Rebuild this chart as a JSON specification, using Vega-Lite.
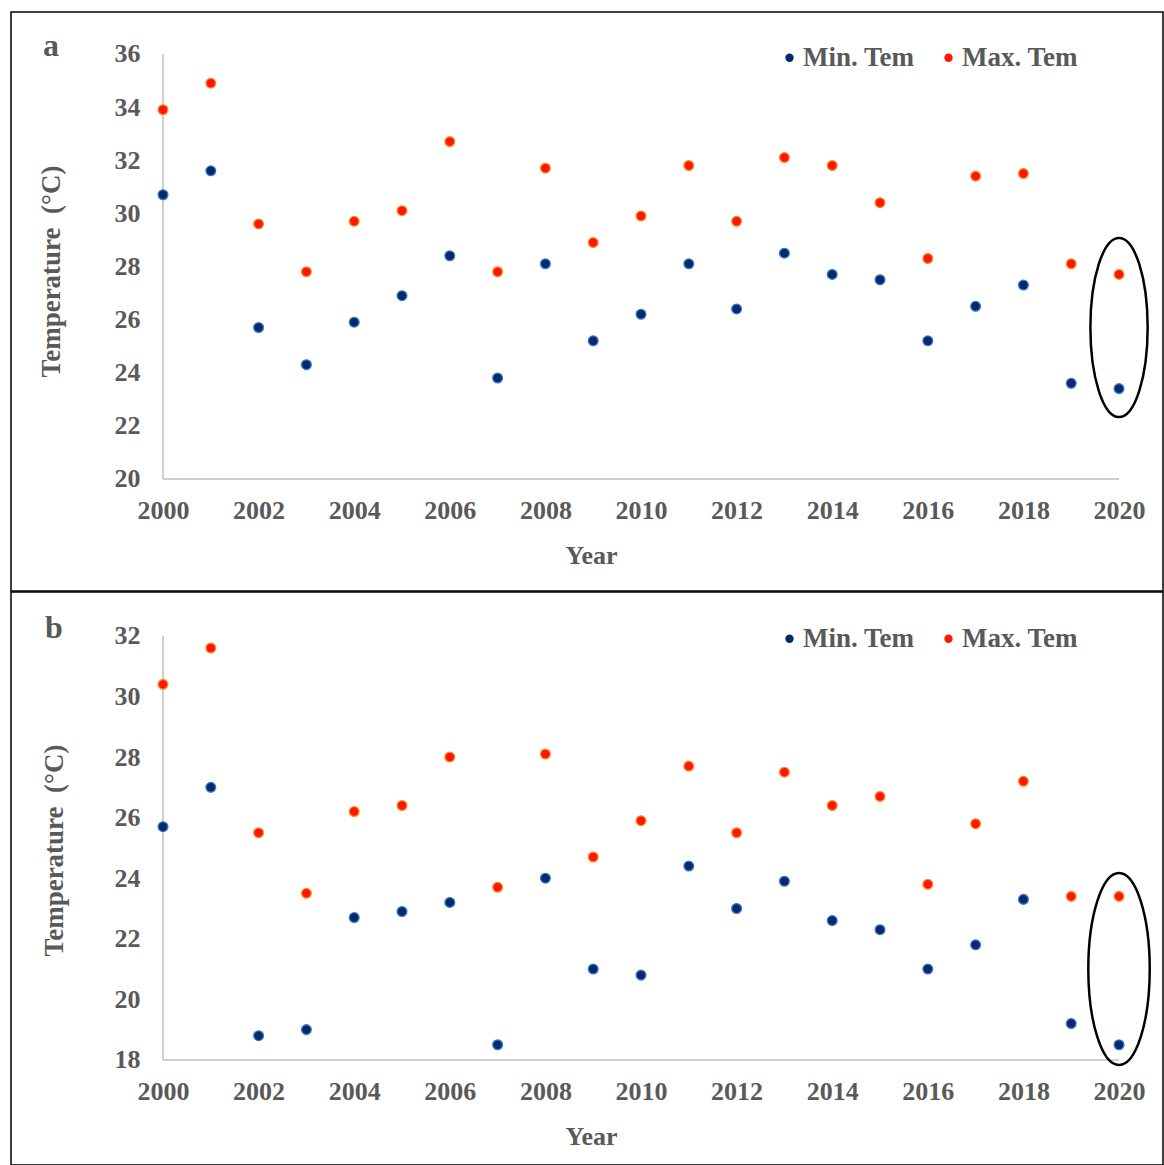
{
  "$schema": "https://vega.github.io/schema/vega-lite/v6.json",
  "background": "white",
  "padding": {"left": 10, "top": 11, "right": 2, "bottom": 0},
  "autosize": {"type": "pad"},
  "bounds": "flush",
  "spacing": 1,
  "config": {
    "view": {"stroke": "#000000", "strokeWidth": 1.5},
    "font": "Liberation Serif",
    "axis": {
      "domain": false, "ticks": false, "tickSize": 0, "grid": false,
      "labelFont": "Liberation Serif", "labelFontSize": 26, "labelFontWeight": "bold", "labelColor": "#595959",
      "labelFlush": false, "labelOverlap": false,
      "titleFont": "Liberation Serif", "titleFontSize": 26, "titleFontWeight": "bold", "titleColor": "#595959"
    },
    "legend": {
      "labelFont": "Liberation Serif", "labelFontSize": 27, "labelFontWeight": "bold", "labelColor": "#595959",
      "symbolSize": 70, "symbolType": "circle", "labelOffset": 0, "columnPadding": 20, "symbolStrokeWidth": 0
    }
  },
  "datasets": {
    "temps": [
      {"p":"a","Year":2000,"series":"Max. Tem","temp":33.9},{"p":"a","Year":2001,"series":"Max. Tem","temp":34.9},{"p":"a","Year":2002,"series":"Max. Tem","temp":29.6},{"p":"a","Year":2003,"series":"Max. Tem","temp":27.8},{"p":"a","Year":2004,"series":"Max. Tem","temp":29.7},{"p":"a","Year":2005,"series":"Max. Tem","temp":30.1},{"p":"a","Year":2006,"series":"Max. Tem","temp":32.7},{"p":"a","Year":2007,"series":"Max. Tem","temp":27.8},{"p":"a","Year":2008,"series":"Max. Tem","temp":31.7},{"p":"a","Year":2009,"series":"Max. Tem","temp":28.9},{"p":"a","Year":2010,"series":"Max. Tem","temp":29.9},{"p":"a","Year":2011,"series":"Max. Tem","temp":31.8},{"p":"a","Year":2012,"series":"Max. Tem","temp":29.7},{"p":"a","Year":2013,"series":"Max. Tem","temp":32.1},{"p":"a","Year":2014,"series":"Max. Tem","temp":31.8},{"p":"a","Year":2015,"series":"Max. Tem","temp":30.4},{"p":"a","Year":2016,"series":"Max. Tem","temp":28.3},{"p":"a","Year":2017,"series":"Max. Tem","temp":31.4},{"p":"a","Year":2018,"series":"Max. Tem","temp":31.5},{"p":"a","Year":2019,"series":"Max. Tem","temp":28.1},{"p":"a","Year":2020,"series":"Max. Tem","temp":27.7},
      {"p":"a","Year":2000,"series":"Min. Tem","temp":30.7},{"p":"a","Year":2001,"series":"Min. Tem","temp":31.6},{"p":"a","Year":2002,"series":"Min. Tem","temp":25.7},{"p":"a","Year":2003,"series":"Min. Tem","temp":24.3},{"p":"a","Year":2004,"series":"Min. Tem","temp":25.9},{"p":"a","Year":2005,"series":"Min. Tem","temp":26.9},{"p":"a","Year":2006,"series":"Min. Tem","temp":28.4},{"p":"a","Year":2007,"series":"Min. Tem","temp":23.8},{"p":"a","Year":2008,"series":"Min. Tem","temp":28.1},{"p":"a","Year":2009,"series":"Min. Tem","temp":25.2},{"p":"a","Year":2010,"series":"Min. Tem","temp":26.2},{"p":"a","Year":2011,"series":"Min. Tem","temp":28.1},{"p":"a","Year":2012,"series":"Min. Tem","temp":26.4},{"p":"a","Year":2013,"series":"Min. Tem","temp":28.5},{"p":"a","Year":2014,"series":"Min. Tem","temp":27.7},{"p":"a","Year":2015,"series":"Min. Tem","temp":27.5},{"p":"a","Year":2016,"series":"Min. Tem","temp":25.2},{"p":"a","Year":2017,"series":"Min. Tem","temp":26.5},{"p":"a","Year":2018,"series":"Min. Tem","temp":27.3},{"p":"a","Year":2019,"series":"Min. Tem","temp":23.6},{"p":"a","Year":2020,"series":"Min. Tem","temp":23.4},
      {"p":"b","Year":2000,"series":"Max. Tem","temp":30.4},{"p":"b","Year":2001,"series":"Max. Tem","temp":31.6},{"p":"b","Year":2002,"series":"Max. Tem","temp":25.5},{"p":"b","Year":2003,"series":"Max. Tem","temp":23.5},{"p":"b","Year":2004,"series":"Max. Tem","temp":26.2},{"p":"b","Year":2005,"series":"Max. Tem","temp":26.4},{"p":"b","Year":2006,"series":"Max. Tem","temp":28.0},{"p":"b","Year":2007,"series":"Max. Tem","temp":23.7},{"p":"b","Year":2008,"series":"Max. Tem","temp":28.1},{"p":"b","Year":2009,"series":"Max. Tem","temp":24.7},{"p":"b","Year":2010,"series":"Max. Tem","temp":25.9},{"p":"b","Year":2011,"series":"Max. Tem","temp":27.7},{"p":"b","Year":2012,"series":"Max. Tem","temp":25.5},{"p":"b","Year":2013,"series":"Max. Tem","temp":27.5},{"p":"b","Year":2014,"series":"Max. Tem","temp":26.4},{"p":"b","Year":2015,"series":"Max. Tem","temp":26.7},{"p":"b","Year":2016,"series":"Max. Tem","temp":23.8},{"p":"b","Year":2017,"series":"Max. Tem","temp":25.8},{"p":"b","Year":2018,"series":"Max. Tem","temp":27.2},{"p":"b","Year":2019,"series":"Max. Tem","temp":23.4},{"p":"b","Year":2020,"series":"Max. Tem","temp":23.4},
      {"p":"b","Year":2000,"series":"Min. Tem","temp":25.7},{"p":"b","Year":2001,"series":"Min. Tem","temp":27.0},{"p":"b","Year":2002,"series":"Min. Tem","temp":18.8},{"p":"b","Year":2003,"series":"Min. Tem","temp":19.0},{"p":"b","Year":2004,"series":"Min. Tem","temp":22.7},{"p":"b","Year":2005,"series":"Min. Tem","temp":22.9},{"p":"b","Year":2006,"series":"Min. Tem","temp":23.2},{"p":"b","Year":2007,"series":"Min. Tem","temp":18.5},{"p":"b","Year":2008,"series":"Min. Tem","temp":24.0},{"p":"b","Year":2009,"series":"Min. Tem","temp":21.0},{"p":"b","Year":2010,"series":"Min. Tem","temp":20.8},{"p":"b","Year":2011,"series":"Min. Tem","temp":24.4},{"p":"b","Year":2012,"series":"Min. Tem","temp":23.0},{"p":"b","Year":2013,"series":"Min. Tem","temp":23.9},{"p":"b","Year":2014,"series":"Min. Tem","temp":22.6},{"p":"b","Year":2015,"series":"Min. Tem","temp":22.3},{"p":"b","Year":2016,"series":"Min. Tem","temp":21.0},{"p":"b","Year":2017,"series":"Min. Tem","temp":21.8},{"p":"b","Year":2018,"series":"Min. Tem","temp":23.3},{"p":"b","Year":2019,"series":"Min. Tem","temp":19.2},{"p":"b","Year":2020,"series":"Min. Tem","temp":18.5}
    ],
    "highlight": [
      {"p":"a","Year":2020,"temp":25.7},
      {"p":"b","Year":2020,"temp":21.0}
    ]
  },
  "vconcat": [
    {
      "width": 1152,
      "height": 579,
      "layer": [
        {
          "data": {"values": [{}]},
          "mark": {"type": "rule", "color": "#bfbfbf", "strokeWidth": 1.5},
          "encoding": {"x": {"datum": 2000, "type": "quantitative"}, "x2": {"datum": 2020}, "y": {"datum": 20, "type": "quantitative"}}
        },
        {
          "data": {"values": [{}]},
          "mark": {"type": "rule", "color": "#bfbfbf", "strokeWidth": 1.5},
          "encoding": {"x": {"datum": 2000, "type": "quantitative"}, "y": {"datum": 20, "type": "quantitative"}, "y2": {"datum": 36}}
        },
        {
          "data": {"values": [{}]},
          "mark": {"type": "text", "align": "left", "baseline": "alphabetic", "font": "Liberation Serif", "fontSize": 32, "fontWeight": "bold", "color": "#595959"},
          "encoding": {"x": {"datum": 1997.49, "type": "quantitative"}, "y": {"datum": 35.92, "type": "quantitative"}, "text": {"value": "a"}}
        },
        {
          "data": {"name": "temps"},
          "transform": [{"filter": "datum.p === 'a'"}],
          "mark": {"type": "point", "filled": true, "size": 95, "strokeWidth": 1.3, "opacity": 1},
          "encoding": {
            "x": {"field": "Year", "type": "quantitative", "scale": {"domain": [1996.82, 2020.92], "nice": false, "zero": false},
              "axis": {"values": [2000,2002,2004,2006,2008,2010,2012,2014,2016,2018,2020], "format": "d", "offset": -112, "labelPadding": 18, "title": "Year", "titleX": 580, "titleY": 84, "titleAlign": "center", "titleBaseline": "alphabetic"}},
            "y": {"field": "temp", "type": "quantitative", "scale": {"domain": [15.78, 37.58], "nice": false, "zero": false},
              "axis": {"values": [20,22,24,26,28,30,32,34,36], "offset": -152, "labelPadding": 23, "title": "Temperature\u00a0 (°C)", "titleFontSize": 27, "titleAngle": 270, "titleX": -104, "titleY": 259, "titleAlign": "center", "titleBaseline": "alphabetic"}},
            "color": {"field": "series", "type": "nominal", "scale": {"domain": ["Min. Tem", "Max. Tem"], "range": ["#002a70", "#ff1500"]},
              "legend": {"title": null, "orient": "none", "direction": "horizontal", "legendX": 765, "legendY": 32}},
            "stroke": {"condition": {"test": "datum.series === 'Min. Tem'", "value": "#3a78c2"}, "value": "#ff8a2a"}
          }
        },
        {
          "data": {"name": "highlight"},
          "transform": [{"filter": "datum.p === 'a'"}],
          "mark": {"type": "point", "shape": "M0,-1A0.32,1,0,1,1,0,1A0.32,1,0,1,1,0,-1Z", "size": 32041, "filled": false, "stroke": "#000000", "strokeWidth": 2.5, "opacity": 1},
          "encoding": {"x": {"field": "Year", "type": "quantitative"}, "y": {"field": "temp", "type": "quantitative"}}
        }
      ]
    },
    {
      "width": 1152,
      "height": 573,
      "layer": [
        {
          "data": {"values": [{}]},
          "mark": {"type": "rule", "color": "#bfbfbf", "strokeWidth": 1.5},
          "encoding": {"x": {"datum": 2000, "type": "quantitative"}, "x2": {"datum": 2020}, "y": {"datum": 18, "type": "quantitative"}}
        },
        {
          "data": {"values": [{}]},
          "mark": {"type": "rule", "color": "#bfbfbf", "strokeWidth": 1.5},
          "encoding": {"x": {"datum": 2000, "type": "quantitative"}, "y": {"datum": 18, "type": "quantitative"}, "y2": {"datum": 32}}
        },
        {
          "data": {"values": [{}]},
          "mark": {"type": "text", "align": "left", "baseline": "alphabetic", "font": "Liberation Serif", "fontSize": 32, "fontWeight": "bold", "color": "#595959"},
          "encoding": {"x": {"datum": 1997.53, "type": "quantitative"}, "y": {"datum": 31.94, "type": "quantitative"}, "text": {"value": "b"}}
        },
        {
          "data": {"name": "temps"},
          "transform": [{"filter": "datum.p === 'b'"}],
          "mark": {"type": "point", "filled": true, "size": 95, "strokeWidth": 1.3, "opacity": 1},
          "encoding": {
            "x": {"field": "Year", "type": "quantitative", "scale": {"domain": [1996.82, 2020.92], "nice": false, "zero": false},
              "axis": {"values": [2000,2002,2004,2006,2008,2010,2012,2014,2016,2018,2020], "format": "d", "offset": -105, "labelPadding": 18, "title": "Year", "titleX": 580, "titleY": 84, "titleAlign": "center", "titleBaseline": "alphabetic"}},
            "y": {"field": "temp", "type": "quantitative", "scale": {"domain": [14.53, 33.45], "nice": false, "zero": false},
              "axis": {"values": [18,20,22,24,26,28,30,32], "offset": -152, "labelPadding": 23, "title": "Temperature\u00a0 (°C)", "titleFontSize": 27, "titleAngle": 270, "titleX": -101, "titleY": 258, "titleAlign": "center", "titleBaseline": "alphabetic"}},
            "color": {"field": "series", "type": "nominal", "scale": {"domain": ["Min. Tem", "Max. Tem"], "range": ["#002a70", "#ff1500"]},
              "legend": {"title": null, "orient": "none", "direction": "horizontal", "legendX": 765, "legendY": 33}},
            "stroke": {"condition": {"test": "datum.series === 'Min. Tem'", "value": "#3a78c2"}, "value": "#ff8a2a"}
          }
        },
        {
          "data": {"name": "highlight"},
          "transform": [{"filter": "datum.p === 'b'"}],
          "mark": {"type": "point", "shape": "M0,-1A0.32,1,0,1,1,0,1A0.32,1,0,1,1,0,-1Z", "size": 36864, "filled": false, "stroke": "#000000", "strokeWidth": 2.5, "opacity": 1},
          "encoding": {"x": {"field": "Year", "type": "quantitative"}, "y": {"field": "temp", "type": "quantitative"}}
        }
      ]
    }
  ],
  "resolve": {"scale": {"x": "independent", "y": "independent", "color": "independent"}, "legend": {"color": "independent"}}
}
